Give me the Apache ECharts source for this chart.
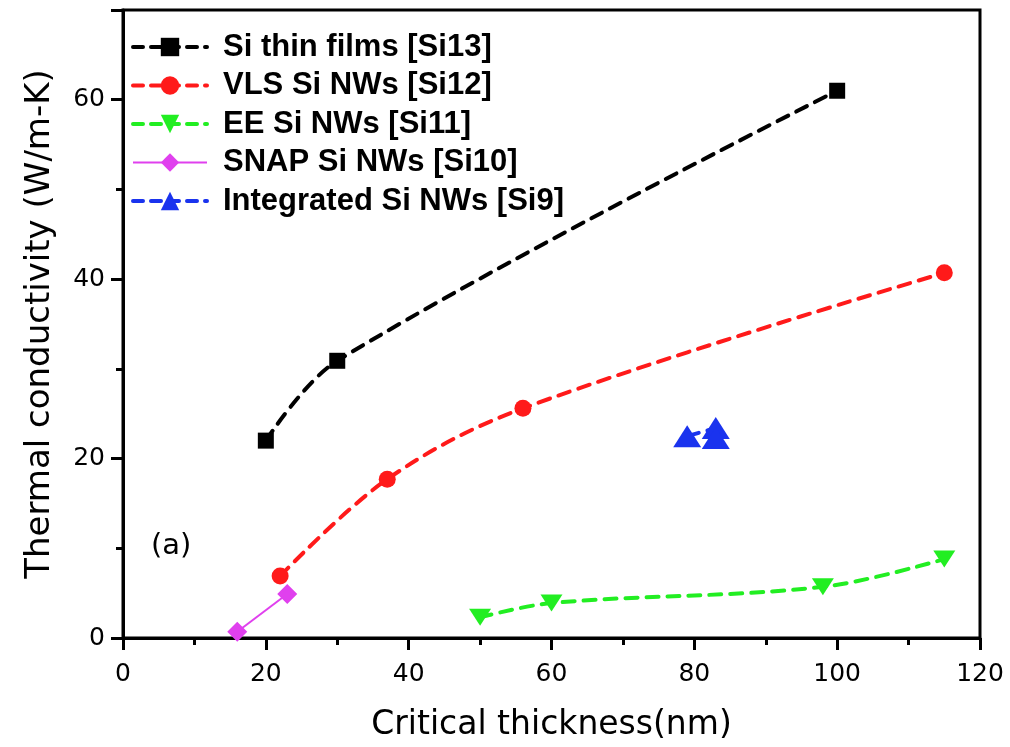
<!DOCTYPE html>
<html>
<head>
<meta charset="utf-8">
<script src="https://cdn.jsdelivr.net/npm/echarts@6/dist/echarts.min.js"></script>
<style>
html,body{margin:0;padding:0;background:#fff;}
#chart{width:1010px;height:747px;}
</style>
</head>
<body>
<div id="chart"></div>
<script>
// ---- data ----
const filmsX = [20, 30, 100];
const filmsY = [22.0, 30.9, 61.0];
const vlsX = [22, 37, 56, 115];
const vlsY = [6.9, 17.7, 25.6, 40.7];
const eeX = [50, 60, 98, 115];
const eeY = [2.3, 3.9, 5.7, 8.8];
const snapX = [16, 23];
const snapY = [0.7, 4.9];
const intX = [79, 83, 83];
const intY = [22.5, 23.4, 22.3];
const seriesNames = ['Si thin films [Si13]', 'VLS Si NWs [Si12]', 'EE Si NWs [Si11]', 'SNAP Si NWs [Si10]', 'Integrated Si NWs [Si9]'];
const xTicks = [0, 20, 40, 60, 80, 100, 120];
const yTicks = [0, 20, 40, 60];
const xName = 'Critical thickness(nm)';
const yName = 'Thermal conductivity (W/m-K)';
const panelLabel = '(a)';

function pairs(xs, ys) { return xs.map((x, i) => [x, ys[i]]); }

const dash = [12, 9];
const legendDash = [10, 8];
const chart = echarts.init(document.getElementById('chart'), null, {renderer: 'canvas'});
const option = {
  animation: false,
  backgroundColor: '#fff',
  grid: {left: 123, right: 30, top: 10, bottom: 109, show: true, borderColor: '#000', borderWidth: 3, backgroundColor: 'transparent'},
  legend: {
    left: 126, top: 26, orient: 'vertical', itemWidth: 74, itemHeight: 23, itemGap: 6.5,
    textStyle: {fontFamily: 'Liberation Sans, Arial, sans-serif', fontWeight: 'bold', fontSize: 31, color: '#000', lineHeight: 32, padding: [0, 0, 0, 11]},
    data: [
      {name: seriesNames[0], lineStyle: {width: 4, type: legendDash}},
      {name: seriesNames[1], lineStyle: {width: 4, type: legendDash}},
      {name: seriesNames[2], lineStyle: {width: 4, type: legendDash}},
      {name: seriesNames[3], lineStyle: {width: 2, type: 'solid'}},
      {name: seriesNames[4], lineStyle: {width: 4, type: legendDash}}
    ]
  },
  xAxis: {
    type: 'value', min: 0, max: 120, interval: 20,
    name: xName, nameLocation: 'middle', nameGap: 71,
    nameTextStyle: {fontFamily: 'DejaVu Sans', fontSize: 33, color: '#000'},
    axisLine: {show: true, lineStyle: {color: '#000', width: 3}},
    axisTick: {show: true, inside: false, length: 12, lineStyle: {color: '#000', width: 3}},
    minorTick: {show: true, splitNumber: 2, length: 7, lineStyle: {color: '#000', width: 3}},
    axisLabel: {fontFamily: 'DejaVu Sans', fontSize: 25, color: '#000', margin: 24,
      formatter: v => xTicks.includes(v) ? String(v) : ''},
    splitLine: {show: false}
  },
  yAxis: {
    type: 'value', min: 0, max: 70, interval: 20,
    name: yName, nameLocation: 'middle', nameGap: 66, nameRotate: 90,
    nameTextStyle: {fontFamily: 'DejaVu Sans', fontSize: 34, color: '#000'},
    axisLine: {show: true, lineStyle: {color: '#000', width: 3}},
    axisTick: {show: true, inside: false, length: 12, lineStyle: {color: '#000', width: 3}},
    minorTick: {show: true, splitNumber: 2, length: 7, lineStyle: {color: '#000', width: 3}},
    axisLabel: {fontFamily: 'DejaVu Sans', fontSize: 25, color: '#000', margin: 18, showMaxLabel: false,
      formatter: v => yTicks.includes(v) ? String(v) : ''},
    splitLine: {show: false}
  },
  graphic: [{
    type: 'text', left: 151, top: 532,
    style: {text: panelLabel, fontFamily: 'DejaVu Sans', fontSize: 29, fill: '#000'}
  }],
  series: [
    {name: seriesNames[0], type: 'line', data: pairs(filmsX, filmsY), smooth: 0.35,
      symbol: 'rect', symbolSize: 16, itemStyle: {color: '#000'},
      lineStyle: {color: '#000', width: 4, type: dash, cap: 'round'}},
    {name: seriesNames[1], type: 'line', data: pairs(vlsX, vlsY), smooth: 0.35,
      symbol: 'circle', symbolSize: 17, itemStyle: {color: '#ff1a1a'},
      lineStyle: {color: '#ff1a1a', width: 4, type: dash, cap: 'round'}},
    {name: seriesNames[2], type: 'line', data: pairs(eeX, eeY), smooth: 0.35,
      symbol: 'triangle', symbolRotate: 180, symbolSize: [22, 17], itemStyle: {color: '#22ee22'},
      lineStyle: {color: '#22ee22', width: 4, type: dash, cap: 'round'}},
    {name: seriesNames[3], type: 'line', data: pairs(snapX, snapY),
      symbol: 'diamond', symbolSize: 20, itemStyle: {color: '#e040ee'},
      lineStyle: {color: '#e040ee', width: 2, type: 'solid'}},
    {name: seriesNames[4], type: 'line', data: pairs(intX, intY),
      symbol: 'triangle', symbolSize: [28, 22], itemStyle: {color: '#1a33ee'},
      lineStyle: {color: '#1a33ee', width: 4, type: dash, cap: 'round'}}
  ]
};
chart.setOption(option);
</script>
</body>
</html>
